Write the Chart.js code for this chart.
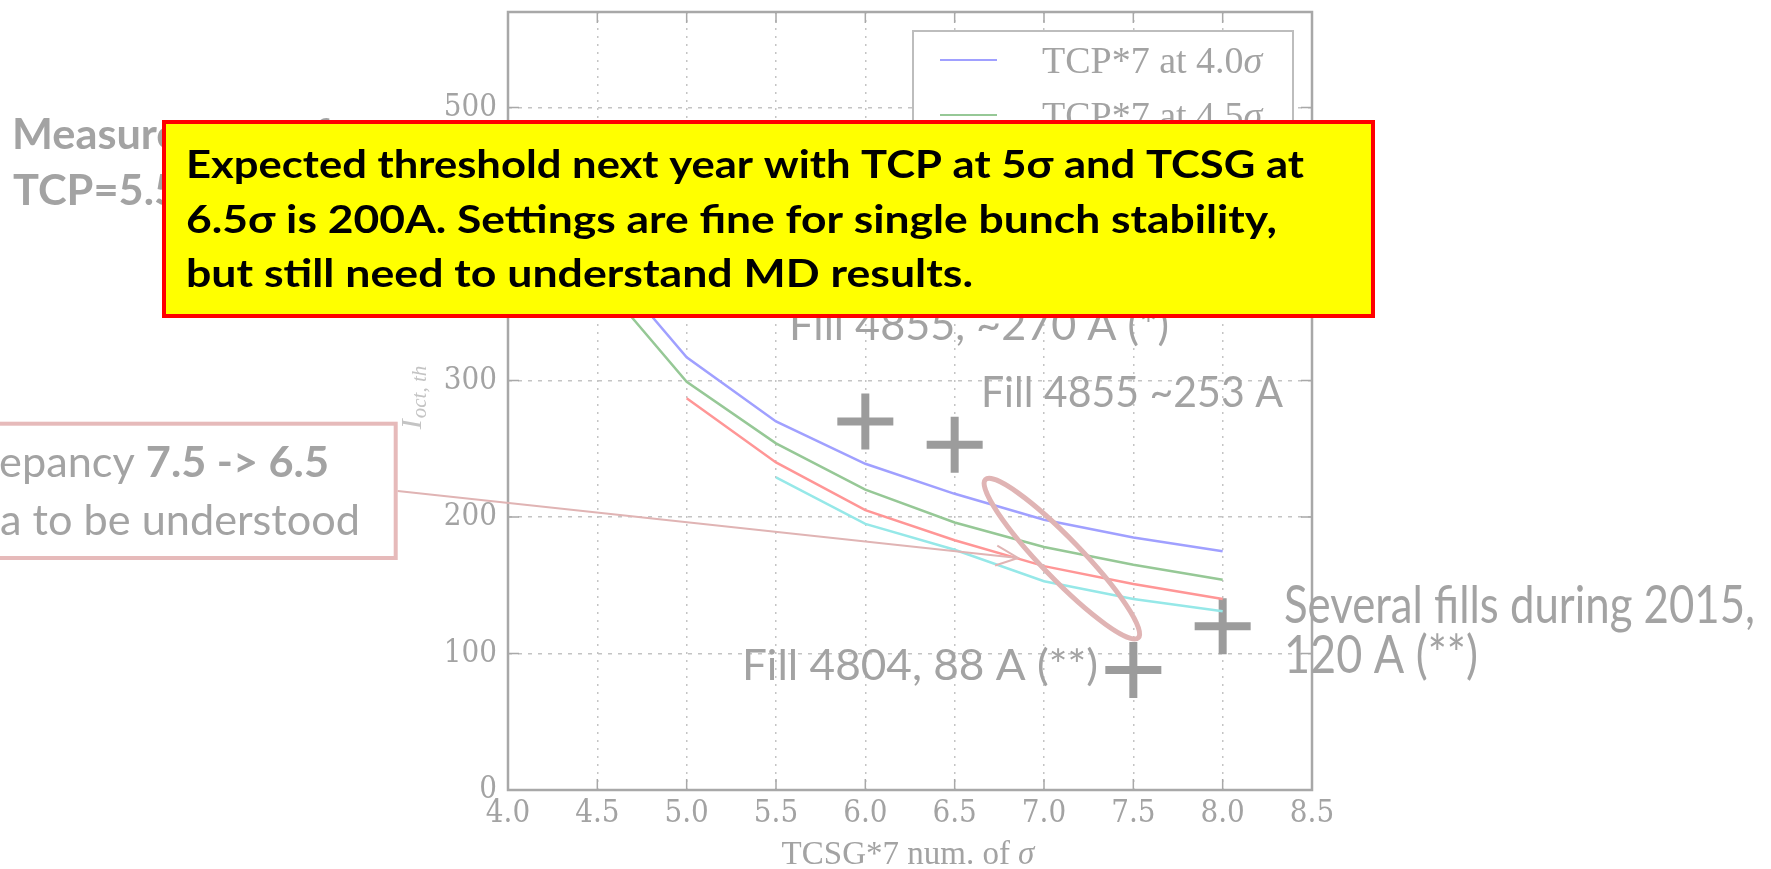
<!DOCTYPE html>
<html>
<head>
<meta charset="utf-8">
<script src="https://cdn.jsdelivr.net/npm/chart.js@4.4.0/dist/chart.umd.min.js"></script>
<style>
  html, body { margin: 0; padding: 0; background: #fff; }
  #wrap { width: 1771px; height: 869px; position: relative; }
</style>
</head>
<body>
<div id="wrap"><canvas id="thresholdChart"></canvas></div>
<script>
// TCSG setting (num. of sigma) and octupole threshold for each TCP setting
const tcsgSigma = [4.5, 5.0, 5.5, 6.0, 6.5, 7.0, 7.5, 8.0];
const tcp40 = [394, 317, 270, 239, 217, 198, 185, 175];
const tcp45 = [376, 299, 254, 220, 196, 178, 165, 154];
const tcp50 = [null, 287, 240, 205, 183, 164, 151, 140];
const tcp55 = [null, null, 229, 195, 176, 153, 140, 131];
const seriesLabels = ['TCP*7 at 4.0', 'TCP*7 at 4.5', 'TCP*7 at 5.0', 'TCP*7 at 5.5'];
const seriesColors = ['rgb(160,160,255)', 'rgb(150,200,150)', 'rgb(255,150,150)', 'rgb(150,232,232)'];

// measured thresholds from fills
const fillSigma = [6.0, 6.5, 7.5, 8.0];
const fillCurrent = [270, 253, 88, 120];

const xTicks = [4.0, 4.5, 5.0, 5.5, 6.0, 6.5, 7.0, 7.5, 8.0, 8.5];
const yTicks = [0, 100, 200, 300, 400, 500];

const GRAY = '#a3a3a3';
const PINK = '#e0b4b4';
const SERIF = '"Liberation Serif", "DejaVu Serif", serif';
const TICK_FONT = '"DejaVu Serif Condensed", "Liberation Serif", serif';
const SANS = 'Lato, "Open Sans", sans-serif';

function toPoints(ys) {
    return tcsgSigma.map((x, i) => ({ x: x, y: ys[i] }));
}

function runsWidth(ctx, runs) {
    let w = 0;
    runs.forEach(r => { ctx.font = r.font; w += ctx.measureText(r.text).width; });
    return w;
}

function drawRuns(ctx, runs, x, y, sx, color) {
    ctx.save();
    ctx.translate(x, y);
    ctx.scale(sx, 1);
    ctx.fillStyle = color;
    ctx.textAlign = 'left';
    ctx.textBaseline = 'alphabetic';
    let cx = 0;
    runs.forEach(r => {
        ctx.font = r.font;
        ctx.fillText(r.text, cx, 0);
        cx += ctx.measureText(r.text).width;
    });
    ctx.restore();
}

// draw text squeezed to a given width
function fitText(ctx, text, font, x, y, width, color) {
    const runs = [{ text: text, font: font }];
    drawRuns(ctx, runs, x, y, width / runsWidth(ctx, runs), color);
}

const framePlugin = {
    id: 'frame',
    afterDatasetsDraw(chart) {
        const ctx = chart.ctx;
        const a = chart.chartArea;
        const xs = chart.scales.x, ys = chart.scales.y;

        ctx.save();
        // inward ticks on all four sides
        ctx.strokeStyle = '#a8a8a8';
        ctx.lineWidth = 1.5;
        ctx.beginPath();
        xTicks.forEach(v => {
            const px = xs.getPixelForValue(v);
            ctx.moveTo(px, a.bottom); ctx.lineTo(px, a.bottom - 11);
            ctx.moveTo(px, a.top); ctx.lineTo(px, a.top + 11);
        });
        yTicks.forEach(v => {
            const py = ys.getPixelForValue(v);
            ctx.moveTo(a.left, py); ctx.lineTo(a.left + 11, py);
            ctx.moveTo(a.right, py); ctx.lineTo(a.right - 11, py);
        });
        ctx.stroke();

        // axes frame
        ctx.strokeStyle = '#a8a8a8';
        ctx.lineWidth = 2.5;
        ctx.strokeRect(a.left, a.top, a.right - a.left, a.bottom - a.top);

        // legend
        const lx = 913, ly = 31;
        ctx.fillStyle = '#fff';
        ctx.fillRect(lx, ly, 380, 228);
        ctx.strokeStyle = '#bdbdbd';
        ctx.lineWidth = 2;
        ctx.strokeRect(lx, ly, 380, 228);
        chart.data.datasets.slice(0, 4).forEach((ds, i) => {
            const y = 60 + i * 55;
            ctx.strokeStyle = ds.borderColor;
            ctx.lineWidth = 2;
            ctx.beginPath();
            ctx.moveTo(940, y); ctx.lineTo(997, y);
            ctx.stroke();
            drawRuns(ctx, [
                { text: ds.label, font: '38px ' + SERIF },
                { text: 'σ', font: 'italic 38px ' + SERIF }
            ], 1042, y + 13, 1, GRAY);
        });

        // axis titles
        const xt = [
            { text: 'TCSG*7 num. of ', font: '33px ' + SERIF },
            { text: 'σ', font: 'italic 33px ' + SERIF }
        ];
        drawRuns(ctx, xt, 908 - runsWidth(ctx, xt) / 2, 864, 1, GRAY);

        ctx.save();
        ctx.translate(421, 398);
        ctx.rotate(-Math.PI / 2);
        ctx.fillStyle = '#c4c4c4';
        ctx.font = 'italic 30px ' + SERIF;
        const iw = ctx.measureText('I').width;
        ctx.font = 'italic 21px ' + SERIF;
        const sw = ctx.measureText('oct, th').width;
        const x0 = -(iw + sw) / 2;
        ctx.font = 'italic 30px ' + SERIF;
        ctx.fillText('I', x0, 0);
        ctx.font = 'italic 21px ' + SERIF;
        ctx.fillText('oct, th', x0 + iw + 1, 5);
        ctx.restore();

        ctx.restore();
    },
    afterDraw(chart) {
        const ctx = chart.ctx;
        const xs = chart.scales.x, ys = chart.scales.y;
        ctx.save();

        // notes next to the measured points
        fitText(ctx, 'Fill 4855 ~253 A', '42px ' + SANS, 981, 407, 302, GRAY);
        fitText(ctx, 'Fill 4855, ~270 A (*)', '42px ' + SANS, 789, 340, 380, GRAY);
        fitText(ctx, 'Fill 4804, 88 A (**)', '42px ' + SANS, 742, 680, 356, GRAY);
        fitText(ctx, 'Several fills during 2015,', '53px ' + SANS, 1284, 623, 471, GRAY);
        fitText(ctx, '120 A (**)', '53px ' + SANS, 1284, 673, 194, GRAY);

        // ellipse round the 7.0-7.5 crossing
        ctx.save();
        ctx.strokeStyle = PINK;
        ctx.lineWidth = 5;
        ctx.beginPath();
        ctx.ellipse(xs.getPixelForValue(7.1), ys.getPixelForValue(169.5), 110, 20, 46 * Math.PI / 180, 0, 2 * Math.PI);
        ctx.stroke();
        ctx.restore();

        // left note box and its arrow
        ctx.fillStyle = '#fff';
        ctx.fillRect(-10, 423.7, 405.7, 134.3);
        ctx.strokeStyle = '#e6baba';
        ctx.lineWidth = 4;
        ctx.strokeRect(-10, 423.7, 405.7, 134.3);

        const reg = '42px ' + SANS, bold = 'bold 42px ' + SANS;
        const sx = 360 / runsWidth(ctx, [{ text: 'a to be understood', font: reg }]);
        drawRuns(ctx, [{ text: 'sigma to be understood', font: reg }],
            -runsWidth(ctx, [{ text: 'sigm', font: reg }]) * sx, 535, sx, GRAY);
        drawRuns(ctx, [{ text: 'Discrepancy ', font: reg }, { text: '7.5 -> 6.5', font: bold }],
            -runsWidth(ctx, [{ text: 'Discr', font: reg }]) * sx, 477, sx, GRAY);

        const tipX = xs.getPixelForValue(6.855), tipY = ys.getPixelForValue(170);
        const sx0 = 397.7, sy0 = 491;
        const ang = Math.atan2(tipY - sy0, tipX - sx0);
        ctx.strokeStyle = PINK;
        ctx.lineWidth = 2;
        ctx.beginPath();
        ctx.moveTo(sx0, sy0); ctx.lineTo(tipX, tipY);
        ctx.moveTo(tipX - 22 * Math.cos(ang) + 10 * Math.sin(ang), tipY - 22 * Math.sin(ang) - 10 * Math.cos(ang));
        ctx.lineTo(tipX, tipY);
        ctx.lineTo(tipX - 22 * Math.cos(ang) - 10 * Math.sin(ang), tipY - 22 * Math.sin(ang) + 10 * Math.cos(ang));
        ctx.stroke();

        // heading text on the left
        const hb = 'bold 42px ' + SANS;
        const hs = 145 / runsWidth(ctx, [{ text: 'Measur', font: hb }]);
        drawRuns(ctx, [{ text: 'Measurement of', font: hb }], 12, 149, hs, GRAY);
        drawRuns(ctx, [{ text: 'TCP=5.5σ, TCSG=7.5σ', font: hb }], 13, 205, hs, GRAY);

        // yellow call-out
        ctx.fillStyle = '#ffff00';
        ctx.fillRect(164, 122, 1209, 194);
        ctx.strokeStyle = '#ff0000';
        ctx.lineWidth = 4;
        ctx.strokeRect(164, 122, 1209, 194);
        const yb = 'bold 39px ' + SANS;
        fitText(ctx, 'Expected threshold next year with TCP at 5σ and TCSG at', yb, 186, 178, 1118, '#000');
        fitText(ctx, '6.5σ is 200A. Settings are fine for single bunch stability,', yb, 186, 233, 1091, '#000');
        fitText(ctx, 'but still need to understand MD results.', yb, 186, 287, 787, '#000');

        ctx.restore();
    }
};

const seriesValues = [tcp40, tcp45, tcp50, tcp55];
const datasets = seriesLabels.map((label, i) => ({
    label: label,
    data: toPoints(seriesValues[i]),
    borderColor: seriesColors[i],
    borderWidth: 2.5,
    pointRadius: 0,
    tension: 0,
    spanGaps: false
}));
datasets.push({
    label: 'Fills',
    data: fillSigma.map((x, i) => ({ x: x, y: fillCurrent[i] })),
    showLine: false,
    pointStyle: 'cross',
    pointRadius: 28,
    pointBorderWidth: 8,
    borderColor: '#9c9c9c',
    pointBorderColor: '#9c9c9c'
});

new Chart(document.getElementById('thresholdChart'), {
    type: 'line',
    data: { datasets: datasets },
    options: {
        responsive: true,
        maintainAspectRatio: false,
        animation: false,
        devicePixelRatio: 1,
        layout: { autoPadding: false, padding: { left: 0, right: 459, top: 12, bottom: 0 } },
        plugins: { legend: { display: false }, tooltip: { enabled: false } },
        scales: {
            x: {
                type: 'linear',
                min: 4.0,
                max: 8.5,
                afterBuildTicks: s => { s.ticks = xTicks.map(v => ({ value: v })); },
                afterFit: s => { s.height = 79; s.paddingLeft = 0; s.paddingRight = 0; },
                grid: { color: '#c4c4c4', lineWidth: 1.5, drawTicks: false },
                border: { display: false, dash: [2, 6] },
                ticks: {
                    padding: 5,
                    color: GRAY,
                    font: { family: TICK_FONT, size: 31 },
                    callback: v => v.toFixed(1)
                }
            },
            y: {
                min: 0,
                max: 570,
                afterBuildTicks: s => { s.ticks = yTicks.map(v => ({ value: v })); },
                afterFit: s => { s.width = 508; s.paddingTop = 0; s.paddingBottom = 0; },
                grid: { color: '#c4c4c4', lineWidth: 1.5, drawTicks: false },
                border: { display: false, dash: [4, 6] },
                ticks: {
                    padding: 11,
                    color: GRAY,
                    font: { family: TICK_FONT, size: 31 },
                    callback: v => String(v)
                }
            }
        }
    },
    plugins: [framePlugin]
});
</script>
</body>
</html>
